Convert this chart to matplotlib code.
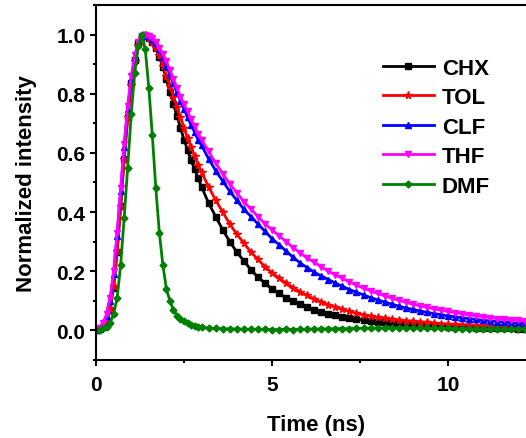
import matplotlib
matplotlib.use("Agg")
import matplotlib.pyplot as plt
from matplotlib.ticker import MultipleLocator

plt.rcParams["font.family"] = ["Liberation Sans", "DejaVu Sans"]
plt.rcParams["font.weight"] = "bold"

# time axis (ns): 0.1 ns steps up to 3 ns, 0.2 ns steps after
time_ns = [0.0, 0.1, 0.2, 0.3, 0.4, 0.5, 0.6, 0.7, 0.8, 0.9, 1.0, 1.1, 1.2, 1.3, 1.4,
           1.5, 1.6, 1.7, 1.8, 1.9, 2.0, 2.1, 2.2, 2.3, 2.4, 2.5, 2.6, 2.7, 2.8, 2.9, 3.0,
           3.2, 3.4, 3.6, 3.8, 4.0, 4.2, 4.4, 4.6, 4.8, 5.0, 5.2, 5.4, 5.6, 5.8, 6.0,
           6.2, 6.4, 6.6, 6.8, 7.0, 7.2, 7.4, 7.6, 7.8, 8.0, 8.2, 8.4, 8.6, 8.8, 9.0,
           9.2, 9.4, 9.6, 9.8, 10.0, 10.2, 10.4, 10.6, 10.8, 11.0, 11.2, 11.4, 11.6,
           11.8, 12.0, 12.2, 12.4]

chx = [0.0, 0.004, 0.013, 0.03, 0.07, 0.145, 0.265, 0.42, 0.58, 0.72, 0.835, 0.915, 0.97, 0.995, 1.0,
       0.99, 0.975, 0.955, 0.925, 0.89, 0.85, 0.805, 0.765, 0.725, 0.685, 0.645, 0.61, 0.575, 0.545, 0.515, 0.485,
       0.43, 0.385, 0.34, 0.30, 0.265, 0.235, 0.205, 0.18, 0.16, 0.14, 0.125, 0.11, 0.10, 0.09, 0.08,
       0.07, 0.063, 0.057, 0.051, 0.046, 0.042, 0.038, 0.035, 0.032, 0.029, 0.027, 0.025, 0.023, 0.021, 0.019,
       0.018, 0.016, 0.015, 0.014, 0.013, 0.012, 0.011, 0.010, 0.009, 0.009, 0.008, 0.008, 0.007,
       0.007, 0.006, 0.006, 0.006]

tol = [0.0, 0.005, 0.015, 0.035, 0.075, 0.15, 0.27, 0.42, 0.58, 0.72, 0.83, 0.91, 0.965, 0.99, 1.0,
       0.99, 0.975, 0.955, 0.93, 0.895, 0.86, 0.825, 0.79, 0.755, 0.72, 0.685, 0.65, 0.62, 0.59, 0.56, 0.535,
       0.485, 0.44, 0.40, 0.36, 0.325, 0.295, 0.265, 0.24, 0.215, 0.195, 0.177, 0.16, 0.145, 0.13, 0.118,
       0.106, 0.096, 0.087, 0.079, 0.071, 0.064, 0.058, 0.053, 0.048, 0.044, 0.041, 0.038, 0.035, 0.033, 0.031,
       0.029, 0.027, 0.025, 0.023, 0.021, 0.020, 0.019, 0.018, 0.017, 0.016, 0.015, 0.015, 0.014,
       0.014, 0.013, 0.013, 0.012]

clf = [0.0, 0.007, 0.022, 0.05, 0.10, 0.19, 0.32, 0.47, 0.62, 0.75, 0.85, 0.925, 0.97, 0.995, 1.0,
       0.995, 0.985, 0.97, 0.95, 0.925, 0.895, 0.865, 0.835, 0.805, 0.775, 0.75, 0.72, 0.695, 0.67, 0.645, 0.625,
       0.58, 0.54, 0.505, 0.47, 0.44, 0.41, 0.385, 0.36, 0.335, 0.31, 0.29, 0.268, 0.247, 0.228, 0.212,
       0.197, 0.184, 0.172, 0.160, 0.149, 0.138, 0.129, 0.12, 0.111, 0.103, 0.096, 0.089, 0.082, 0.076, 0.071,
       0.066, 0.061, 0.057, 0.053, 0.049, 0.046, 0.043, 0.040, 0.037, 0.034, 0.032, 0.030, 0.028,
       0.026, 0.024, 0.023, 0.021]

thf = [0.0, 0.008, 0.025, 0.055, 0.11, 0.2, 0.33, 0.48, 0.63, 0.76, 0.86, 0.93, 0.975, 0.995, 1.0,
       0.995, 0.99, 0.975, 0.955, 0.935, 0.91, 0.88, 0.85, 0.82, 0.79, 0.765, 0.74, 0.715, 0.69, 0.665, 0.645,
       0.605, 0.565, 0.53, 0.495, 0.465, 0.435, 0.41, 0.385, 0.36, 0.34, 0.32, 0.30, 0.28, 0.262, 0.245,
       0.23, 0.215, 0.20, 0.188, 0.176, 0.164, 0.153, 0.143, 0.134, 0.125, 0.117, 0.109, 0.102, 0.095, 0.089,
       0.083, 0.078, 0.073, 0.068, 0.064, 0.060, 0.056, 0.052, 0.049, 0.046, 0.043, 0.040, 0.038,
       0.036, 0.034, 0.032, 0.030]

dmf = [0.0, 0.003, 0.008, 0.012, 0.025, 0.055, 0.11, 0.22, 0.38, 0.55, 0.73, 0.87, 0.96, 1.0, 0.95,
       0.82, 0.66, 0.48, 0.33, 0.22, 0.14, 0.1, 0.07, 0.05, 0.04, 0.032, 0.025, 0.019, 0.015, 0.012, 0.01,
       0.008, 0.007, 0.006, 0.005, 0.005, 0.004, 0.004, 0.004, 0.004, 0.003, 0.003, 0.004, 0.003, 0.004, 0.004,
       0.005, 0.005, 0.005, 0.006, 0.006, 0.006, 0.007, 0.007, 0.008, 0.008, 0.008, 0.009, 0.009, 0.009, 0.008,
       0.008, 0.008, 0.007, 0.007, 0.007, 0.006, 0.006, 0.006, 0.005, 0.005, 0.005, 0.005, 0.004,
       0.004, 0.004, 0.004, 0.004]

labels = ["CHX", "TOL", "CLF", "THF", "DMF"]
colors = ["black", "#ff0000", "#0000ff", "#ff00ff", "#008000"]
markers = ["s", "*", "^", "v", "D"]
sizes = [4, 5.5, 4.5, 5, 3.5]

fig = plt.figure(figsize=(5.26, 4.39), dpi=100)
ax = fig.add_axes([0.1825, 0.1777, 0.8365, 0.8087])

for y, lab, c, m, ms in zip([chx, tol, clf, thf, dmf], labels, colors, markers, sizes):
    ax.plot(time_ns, y, color=c, marker=m, markersize=ms, linewidth=2, label=lab)

ax.set_xlim(0, 12.5)
ax.set_ylim(-0.1, 1.1)
ax.xaxis.set_major_locator(MultipleLocator(5))
ax.xaxis.set_minor_locator(MultipleLocator(2.5))
ax.yaxis.set_minor_locator(MultipleLocator(0.1))
ax.set_yticks([0.0, 0.2, 0.4, 0.6, 0.8, 1.0])
ax.set_yticklabels(["0.0", "0.2", "0.4", "0.6", "0.8", "1.0"])

for s in ax.spines.values():
    s.set_linewidth(1.5)
ax.tick_params(which="major", direction="out", length=4, width=1.5, labelsize=15)
ax.tick_params(which="minor", direction="out", length=2.2, width=1.5)
ax.tick_params(axis="x", which="major", pad=7)

ax.set_xlabel("Time (ns)", fontsize=16, fontweight="bold", labelpad=14)
ax.set_ylabel("Normalized intensity", fontsize=16, fontweight="bold", labelpad=14)

ax.legend(loc="upper left", bbox_to_anchor=(0.728, 0.866), bbox_transform=fig.transFigure,
          frameon=False, fontsize=16, handlelength=2.3, handletextpad=0.35,
          labelspacing=0.38, numpoints=1, borderpad=0, borderaxespad=0)

fig.savefig("out.png", dpi=100)
